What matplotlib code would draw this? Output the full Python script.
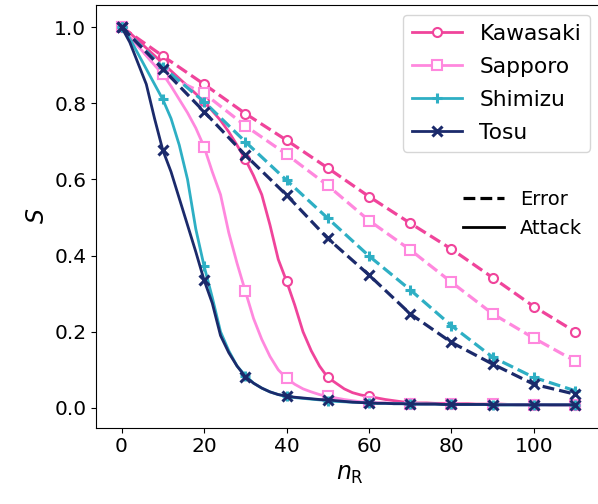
import matplotlib
matplotlib.use("Agg")
import matplotlib.pyplot as plt
from matplotlib.lines import Line2D
import numpy as np

cities = ["Kawasaki", "Sapporo", "Shimizu", "Tosu"]
colors = ["#f0449b", "#ff88de", "#2eafc4", "#1b2a6b"]
markers = ["o", "s", "+", "x"]

# Error (random removal), sampled every 10
x_error = [0, 10, 20, 30, 40, 50, 60, 70, 80, 90, 100, 110]
err_kawasaki = [1.0, 0.924, 0.850, 0.773, 0.703, 0.630, 0.555, 0.485, 0.417, 0.342, 0.266, 0.200]
err_sapporo = [1.0, 0.877, 0.826, 0.741, 0.666, 0.584, 0.492, 0.415, 0.330, 0.247, 0.183, 0.123]
err_shimizu = [1.0, 0.895, 0.804, 0.699, 0.598, 0.498, 0.399, 0.310, 0.216, 0.133, 0.080, 0.045]
err_tosu = [1.0, 0.890, 0.778, 0.664, 0.559, 0.445, 0.349, 0.247, 0.172, 0.115, 0.062, 0.036]

# Attack (targeted removal), sampled every 2
x_attack = list(range(0, 111, 2))
att_kawasaki = [1.0, 0.985, 0.965, 0.945, 0.925, 0.905, 0.885, 0.865, 0.845, 0.825,
                0.805, 0.780, 0.755, 0.725, 0.690, 0.653, 0.610, 0.560, 0.480, 0.390,
                0.333, 0.270, 0.200, 0.150, 0.110, 0.080, 0.065, 0.050, 0.040, 0.034,
                0.030, 0.026, 0.022, 0.019, 0.016, 0.014, 0.013, 0.013, 0.012, 0.012,
                0.011, 0.011, 0.011, 0.010, 0.010, 0.010, 0.010, 0.009, 0.009, 0.009,
                0.009, 0.009, 0.008, 0.008, 0.008, 0.008]
att_sapporo = [1.0, 0.975, 0.950, 0.925, 0.900, 0.877, 0.845, 0.810, 0.775, 0.735,
               0.686, 0.620, 0.560, 0.460, 0.380, 0.307, 0.235, 0.180, 0.135, 0.100,
               0.078, 0.062, 0.050, 0.042, 0.035, 0.030, 0.026, 0.022, 0.019, 0.016,
               0.015, 0.014, 0.013, 0.012, 0.012, 0.011, 0.011, 0.010, 0.010, 0.010,
               0.010, 0.010, 0.009, 0.009, 0.009, 0.009, 0.009, 0.009, 0.008, 0.008,
               0.008, 0.008, 0.008, 0.008, 0.008, 0.008]
att_shimizu = [1.0, 0.970, 0.930, 0.890, 0.850, 0.810, 0.760, 0.690, 0.600, 0.470,
               0.373, 0.290, 0.200, 0.150, 0.110, 0.085, 0.065, 0.052, 0.042, 0.035,
               0.030, 0.027, 0.025, 0.023, 0.021, 0.019, 0.017, 0.016, 0.015, 0.014,
               0.013, 0.012, 0.012, 0.011, 0.011, 0.010, 0.010, 0.010, 0.010, 0.009,
               0.009, 0.009, 0.009, 0.009, 0.009, 0.008, 0.008, 0.008, 0.008, 0.008,
               0.008, 0.008, 0.008, 0.008, 0.008, 0.008]
att_tosu = [1.0, 0.960, 0.905, 0.850, 0.760, 0.677, 0.620, 0.550, 0.480, 0.410,
            0.336, 0.275, 0.190, 0.145, 0.110, 0.082, 0.065, 0.052, 0.042, 0.035,
            0.031, 0.028, 0.026, 0.024, 0.022, 0.021, 0.019, 0.017, 0.015, 0.014,
            0.013, 0.012, 0.012, 0.011, 0.011, 0.010, 0.010, 0.010, 0.010, 0.009,
            0.009, 0.009, 0.009, 0.009, 0.009, 0.008, 0.008, 0.008, 0.008, 0.008,
            0.008, 0.008, 0.008, 0.008, 0.008, 0.008]

errors = [err_kawasaki, err_sapporo, err_shimizu, err_tosu]
attacks = [att_kawasaki, att_sapporo, att_shimizu, att_tosu]

fig = plt.figure(figsize=(5.98, 5.04), dpi=100)
ax = fig.add_axes([0.1605, 0.1514, 0.851, 0.8387])
ax.spines["right"].set_visible(False)

handles = []
for name, c, m, e, a in zip(cities, colors, markers, errors, attacks):
    mkw = dict(marker=m, color=c, markersize=7 if m in ("+", "x") else 6.5,
               markeredgewidth=2.2 if m in ("+", "x") else 1.5,
               markerfacecolor="white" if m in ("o", "s") else c,
               markeredgecolor=c)
    ax.plot(x_error, e, linestyle="--", linewidth=2.3, **mkw)
    h, = ax.plot(x_attack, a, linestyle="-", linewidth=2.0, markevery=5, label=name, **mkw)
    handles.append(h)

ax.set_xlim(-6.2, 117.2)
ax.set_ylim(-0.052, 1.058)
ax.set_xticks([0, 20, 40, 60, 80, 100])
ax.set_yticks([0.0, 0.2, 0.4, 0.6, 0.8, 1.0])
ax.tick_params(labelsize=14.5)
ax.set_xlabel(r"$n_\mathrm{R}$", fontsize=17)
ax.set_ylabel(r"$S$", fontsize=17)

leg1 = ax.legend(handles=handles, loc="upper right", fontsize=15.7,
                 bbox_to_anchor=(0.9705, 0.976), borderaxespad=0,
                 handlelength=2.3, labelspacing=0.6)
ax.add_artist(leg1)
style_handles = [Line2D([], [], color="black", linestyle="--", linewidth=2.3),
                 Line2D([], [], color="black", linestyle="-", linewidth=2.0)]
ax.legend(handles=style_handles, labels=["Error", "Attack"], loc="center left",
          bbox_to_anchor=(0.705, 0.5056), borderaxespad=0, frameon=False,
          fontsize=14, handlelength=2.15)

fig.savefig("out.png", dpi=100)
